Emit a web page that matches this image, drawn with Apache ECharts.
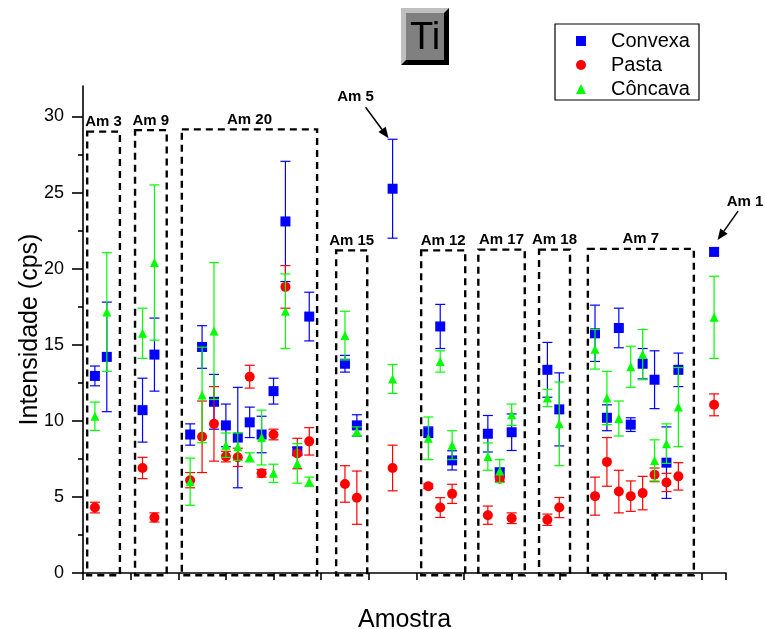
<!DOCTYPE html>
<html>
<head>
<meta charset="utf-8">
<script src="https://cdn.jsdelivr.net/npm/echarts@6/dist/echarts.min.js"></script>
<style>
  html, body { margin: 0; padding: 0; background: #fff; }
  #chart { width: 765px; height: 629px; }
</style>
</head>
<body>
<div id="chart"></div>
<script>
// Sample positions along the x axis (one slot per measured sample)
const sampleX = [0, 1, 4, 5, 8, 9, 10, 11, 12, 13, 14, 15, 16, 17, 18, 21, 22, 25,
  28, 29, 30, 33, 34, 35, 38, 39, 42, 43, 44, 45, 46, 47, 48, 49, 52];

// Convexa: mean intensity and standard deviation
const convexaY = [12.95, 14.2, 10.7, 14.35, 9.1, 14.85, 11.25, 9.7, 8.9, 9.9, 9.1, 11.95, 23.1, 8.0, 16.85,
  13.75, 9.7, 25.25, 9.25, 16.2, 7.4, 9.15, 6.6, 9.25, 13.35, 10.75,
  15.75, 10.2, 16.1, 9.75, 13.75, 12.7, 7.25, 13.35, 21.1];
const convexaErr = [0.65, 3.6, 2.1, 2.4, 0.7, 1.4, 1.8, 1.4, 3.3, 1.0, 1.2, 0.85, 3.95, 0.25, 1.6,
  0.55, 0.7, 3.25, 0.35, 1.45, 0.63, 1.2, 0.3, 1.2, 1.8, 2.4,
  1.85, 0.85, 1.3, 0.45, 1.0, 1.9, 2.35, 1.1, 0.25];

// Pasta (no value at position 1)
const pastaX = [0, 4, 5, 8, 9, 10, 11, 12, 13, 14, 15, 16, 17, 18, 21, 22, 25,
  28, 29, 30, 33, 34, 35, 38, 39, 42, 43, 44, 45, 46, 47, 48, 49, 52];
const pastaY = [4.3, 6.9, 3.65, 6.1, 8.95, 9.8, 7.65, 7.6, 12.9, 6.55, 9.1, 18.8, 7.85, 8.65,
  5.85, 4.95, 6.9, 5.7, 4.3, 5.2, 3.8, 6.2, 3.6, 3.5, 4.3,
  5.05, 7.3, 5.35, 5.05, 5.25, 6.45, 5.95, 6.35, 11.05];
const pastaErr = [0.35, 0.7, 0.3, 0.5, 2.35, 2.45, 0.35, 0.6, 0.75, 0.25, 0.35, 1.4, 1.0, 0.9,
  1.2, 1.75, 1.5, 0.15, 0.65, 0.63, 0.6, 0.2, 0.35, 0.37, 0.66,
  1.25, 1.6, 1.4, 1.0, 1.1, 0.45, 0.6, 0.9, 0.72];

// Côncava
const concavaY = [10.3, 17.15, 15.75, 20.4, 6.0, 11.7, 15.9, 8.4, 8.3, 7.6, 8.9, 6.55, 17.2, 7.2, 6.0,
  15.6, 9.3, 12.75, 8.85, 13.9, 8.4, 7.65, 6.7, 10.4, 11.5, 9.8,
  14.7, 11.5, 10.15, 13.55, 14.35, 7.4, 8.5, 10.9, 16.8];
const concavaErr = [0.93, 3.9, 1.65, 5.1, 1.55, 3.14, 4.5, 0.8, 0.9, 0.3, 1.8, 0.6, 2.45, 1.3, 0.3,
  1.6, 0.3, 0.95, 1.4, 0.7, 0.95, 0.9, 0.75, 0.7, 0.57, 2.75,
  1.3, 1.75, 1.15, 1.35, 1.65, 1.35, 1.3, 2.6, 2.7];

// Sample groups outlined with dashed frames (x extent and top, in axis units)
const groupNames = ['Am 3', 'Am 9', 'Am 20', 'Am 15', 'Am 12', 'Am 17', 'Am 18', 'Am 7'];
const groupStart = [-0.65, 3.37, 7.3, 20.26, 27.4, 32.2, 37.3, 41.4];
const groupEnd = [2.1, 6.03, 18.66, 22.87, 31.1, 36.1, 39.9, 50.3];
const groupTop = [29.0, 29.1, 29.15, 21.2, 21.2, 21.25, 21.25, 21.3];
const groupFloor = -0.15;

// Single samples marked with an arrow
const calloutNames = ['Am 5', 'Am 1'];
const calloutX = [25, 52];

// Axis ticks
const yTickValues = [0, 5, 10, 15, 20, 25, 30];
const yMinorTickValues = [2.5, 7.5, 12.5, 17.5, 22.5, 27.5];
const xTickValues = [-1, 3, 7, 11, 15, 19, 23, 27, 31, 35, 39, 43, 47, 51, 53];

const FONT = '"Liberation Sans", Arial, sans-serif';
const BLUE = '#0000ff', RED = '#ff0000', GREEN = '#00ff00';

function rows(xs, ys, es) {
  return xs.map((x, i) => [x, ys[i], es[i]]);
}

function errorBars(color) {
  return function (params, api) {
    const x = api.value(0), y = api.value(1), e = api.value(2);
    const hi = api.coord([x, y + e]);
    const lo = api.coord([x, y - e]);
    const w = 5;
    const style = { stroke: color, lineWidth: 1.2 };
    return {
      type: 'group',
      children: [
        { type: 'line', shape: { x1: hi[0], y1: hi[1], x2: lo[0], y2: lo[1] }, style },
        { type: 'line', shape: { x1: hi[0] - w, y1: hi[1], x2: hi[0] + w, y2: hi[1] }, style },
        { type: 'line', shape: { x1: lo[0] - w, y1: lo[1], x2: lo[0] + w, y2: lo[1] }, style }
      ]
    };
  };
}

const convexaData = rows(sampleX, convexaY, convexaErr);
const pastaData = rows(pastaX, pastaY, pastaErr);
const concavaData = rows(sampleX, concavaY, concavaErr);
const groupData = groupNames.map((n, i) => [groupStart[i], groupEnd[i], groupTop[i]]);

const chart = echarts.init(document.getElementById('chart'), null, { renderer: 'canvas' });

const axisLineStyle = { color: '#000', width: 1.6 };

chart.setOption({
  animation: false,
  backgroundColor: '#fff',
  grid: { left: 83, right: 39, top: 86, bottom: 56, outerBoundsMode: 'none', containLabel: false },
  xAxis: {
    type: 'value', min: -1, max: 53,
    axisLine: { show: true, onZero: false, lineStyle: axisLineStyle },
    axisTick: { show: true, length: 7, customValues: xTickValues, lineStyle: axisLineStyle },
    axisLabel: { show: false },
    splitLine: { show: false },
    name: 'Amostra', nameLocation: 'middle', nameGap: 35, nameMoveOverlap: false,
    nameTextStyle: { fontFamily: FONT, fontSize: 25, color: '#000' }
  },
  yAxis: [{
    type: 'value', min: 0, max: 32,
    axisLine: { show: true, onZero: false, lineStyle: axisLineStyle },
    axisTick: { show: true, length: 11, customValues: yTickValues, lineStyle: axisLineStyle },
    axisLabel: { show: true, customValues: yTickValues, margin: 19, fontFamily: FONT, fontSize: 18, color: '#000' },
    splitLine: { show: false },
    name: 'Intensidade (cps)', nameLocation: 'middle', nameGap: 40, nameMoveOverlap: false,
    nameTextStyle: { fontFamily: FONT, fontSize: 25, color: '#000' }
  }, {
    type: 'value', min: 0, max: 32, position: 'left',
    axisLine: { show: false, onZero: false },
    axisTick: { show: true, length: 5, customValues: yMinorTickValues, lineStyle: axisLineStyle },
    axisLabel: { show: false },
    splitLine: { show: false }
  }],
  legend: {
    data: ['Convexa', 'Pasta', 'Côncava'],
    orient: 'vertical', left: 576, top: 29, padding: 0,
    itemWidth: 10, itemHeight: 10, itemGap: 0,
    selectedMode: false,
    textStyle: { fontFamily: FONT, fontSize: 20, lineHeight: 24, color: '#000', padding: [0, 0, 0, 20] }
  },
  series: [
    {
      name: 'groups', type: 'custom', silent: true, z: 1,
      encode: { x: [0, 1], y: 2 },
      data: groupData,
      renderItem: function (params, api) {
        const i = params.dataIndex;
        const p0 = api.coord([api.value(0), api.value(2)]);
        const p1 = api.coord([api.value(1), groupFloor]);
        return {
          type: 'group',
          children: [
            { type: 'rect', shape: { x: p0[0], y: p0[1], width: p1[0] - p0[0], height: p1[1] - p0[1] },
              style: { fill: 'none', stroke: '#000', lineWidth: 2.4, lineDash: [7, 5] } },
            { type: 'text', x: (p0[0] + p1[0]) / 2, y: p0[1] - 2,
              style: { text: groupNames[i], fill: '#000', font: 'bold 15px ' + FONT, align: 'center', verticalAlign: 'bottom' } }
          ]
        };
      }
    },
    { name: 'Convexa err', type: 'custom', silent: true, z: 2, encode: { x: 0, y: 1 }, data: convexaData, renderItem: errorBars(BLUE) },
    { name: 'Convexa', type: 'scatter', z: 3, symbol: 'rect', symbolSize: 10, itemStyle: { color: BLUE, opacity: 1 }, data: convexaData },
    { name: 'Pasta err', type: 'custom', silent: true, z: 4, encode: { x: 0, y: 1 }, data: pastaData, renderItem: errorBars(RED) },
    { name: 'Pasta', type: 'scatter', z: 5, symbol: 'circle', symbolSize: 10, itemStyle: { color: RED, opacity: 1 }, data: pastaData },
    { name: 'Côncava err', type: 'custom', silent: true, z: 6, encode: { x: 0, y: 1 }, data: concavaData, renderItem: errorBars(GREEN) },
    { name: 'Côncava', type: 'scatter', z: 7, symbol: 'triangle', symbolSize: 9, itemStyle: { color: GREEN, opacity: 1 }, data: concavaData }
  ]
});

// Arrow from a start point to a tip, with a filled head
function arrow(from, to) {
  const dx = to[0] - from[0], dy = to[1] - from[1];
  const len = Math.hypot(dx, dy);
  const ux = dx / len, uy = dy / len;
  const headLen = 11, headHalf = 4.5;
  const bx = to[0] - ux * headLen, by = to[1] - uy * headLen;
  return [
    { type: 'line', shape: { x1: from[0], y1: from[1], x2: bx, y2: by }, style: { stroke: '#000', lineWidth: 1.5 } },
    { type: 'polygon', shape: { points: [to, [bx - uy * headHalf, by + ux * headHalf], [bx + uy * headHalf, by - ux * headHalf]] },
      style: { fill: '#000' } }
  ];
}

// Tip of each callout arrow sits just above the sample's highest error cap
function topOfSample(x) {
  const i = sampleX.indexOf(x);
  return chart.convertToPixel({ gridIndex: 0 }, [x, convexaY[i] + convexaErr[i]]);
}

const graphics = [];

// Element title badge
graphics.push({
  type: 'group', left: 401, top: 8, silent: true,
  children: [
    { type: 'rect', shape: { x: 0, y: 0, width: 48, height: 57 }, style: { fill: '#c0c0c0' } },
    { type: 'polygon', shape: { points: [[48, 0], [48, 57], [0, 57], [5, 52], [43, 52], [43, 5]] }, style: { fill: '#000' } },
    { type: 'rect', shape: { x: 5, y: 5, width: 38, height: 47 }, style: { fill: '#808080' } },
    { type: 'text', x: 24, y: 31, style: { text: 'Ti', fill: '#000', font: '38px ' + FONT, align: 'center', verticalAlign: 'middle' } }
  ]
});

// Legend frame
graphics.push({
  type: 'rect', silent: true, shape: { x: 555, y: 24, width: 144, height: 76 },
  style: { fill: 'none', stroke: '#000', lineWidth: 1.2 }
});

// Callouts
const calloutOffsets = [
  { tip: [-4, -1], start: [-27, -32], label: [-37, -42] },
  { tip: [3.5, -8], start: [24, -37], label: [31, -46] }
];
calloutNames.forEach((name, k) => {
  const p = topOfSample(calloutX[k]);
  const o = calloutOffsets[k];
  const tip = [p[0] + o.tip[0], p[1] + o.tip[1]];
  const start = [p[0] + o.start[0], p[1] + o.start[1]];
  arrow(start, tip).forEach(el => graphics.push(Object.assign({ silent: true }, el)));
  graphics.push({
    type: 'text', silent: true, x: p[0] + o.label[0], y: p[1] + o.label[1],
    style: { text: name, fill: '#000', font: 'bold 15px ' + FONT, align: 'center', verticalAlign: 'middle' }
  });
});

chart.setOption({ graphic: graphics });
</script>
</body>
</html>
